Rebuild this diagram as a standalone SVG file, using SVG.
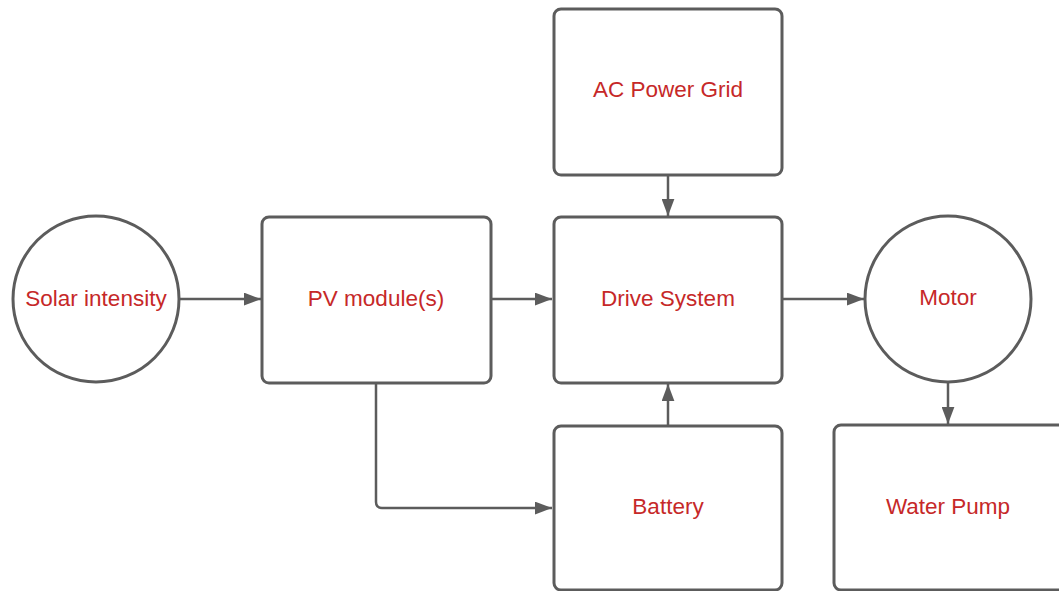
<svg xmlns="http://www.w3.org/2000/svg" width="1059" height="591" viewBox="0 0 1059 591">
<style>
.n{fill:#fff;stroke:#5c5c5c;stroke-width:3}
.t{font-family:"Liberation Sans",Arial,sans-serif;font-size:22.5px;fill:#c62828;text-anchor:middle}
.c{fill:none;stroke:#5c5c5c;stroke-width:2.5}
</style>
<defs>
<marker id="b" viewBox="0 0 16 12" refX="16" refY="6" markerWidth="17" markerHeight="13" markerUnits="userSpaceOnUse" orient="auto">
<path d="M0,0 L16,6 L0,12 z" fill="#5c5c5c"/>
</marker>
</defs>
<rect width="1059" height="591" fill="#fff"/>
<g id="connectors">
<path class="c" d="M180,299 H261" marker-end="url(#b)"/>
<path class="c" d="M491,299 H552" marker-end="url(#b)"/>
<path class="c" d="M782,299 H864" marker-end="url(#b)"/>
<path class="c" d="M668,175 V216" marker-end="url(#b)"/>
<path class="c" d="M668,426 V384" marker-end="url(#b)"/>
<path class="c" d="M948,383 V424" marker-end="url(#b)"/>
<path class="c" d="M376,383 V502 Q376,508 382,508 H552" marker-end="url(#b)"/>
</g>
<g id="solar"><circle class="n" cx="96" cy="299" r="83"/><text class="t" x="96" y="306">Solar intensity</text></g>
<g id="pv"><rect class="n" x="262" y="217" width="229" height="166" rx="7"/><text class="t" x="376" y="306">PV module(s)</text></g>
<g id="ac"><rect class="n" x="554" y="9" width="228" height="166" rx="7"/><text class="t" x="668" y="97">AC Power Grid</text></g>
<g id="drive"><rect class="n" x="554" y="217" width="228" height="166" rx="7"/><text class="t" x="668" y="306">Drive System</text></g>
<g id="motor"><circle class="n" cx="948" cy="299" r="83"/><text class="t" x="948" y="305">Motor</text></g>
<g id="battery"><rect class="n" x="554" y="426" width="228" height="164" rx="7"/><text class="t" x="668" y="514">Battery</text></g>
<g id="pump"><rect class="n" x="834" y="425" width="240" height="165" rx="7"/><text class="t" x="948" y="514">Water Pump</text></g>
</svg>
